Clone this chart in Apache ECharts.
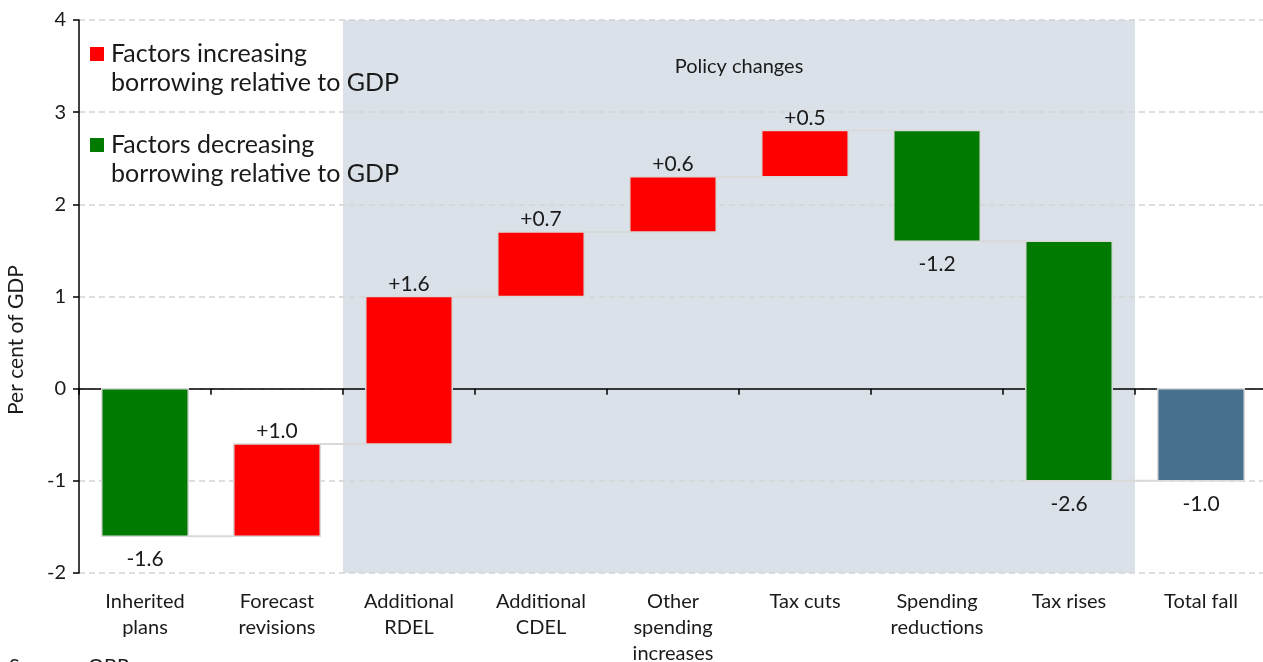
<!DOCTYPE html>
<html>
<head>
<meta charset="utf-8">
<script src="https://cdn.jsdelivr.net/npm/echarts@6/dist/echarts.min.js"></script>
<style>
  html, body { margin: 0; padding: 0; background: #fff; }
  #chart { width: 1263px; height: 662px; }
</style>
</head>
<body>
<div id="chart"></div>
<script>
// Contributions to the change in borrowing (per cent of GDP)
const categories = ['Inherited\nplans', 'Forecast\nrevisions', 'Additional\nRDEL', 'Additional\nCDEL',
  'Other\nspending\nincreases', 'Tax cuts', 'Spending\nreductions', 'Tax rises', 'Total fall'];
const changes = [-1.6, 1.0, 1.6, 0.7, 0.6, 0.5, -1.2, -2.6];
const totalFall = -1.0;
const valueLabels = ['-1.6', '+1.0', '+1.6', '+0.7', '+0.6', '+0.5', '-1.2', '-2.6', '-1.0'];
const yTicks = [-2, -1, 0, 1, 2, 3, 4];
// Policy-change block spans these category indices
const policyRange = [2, 7];

const FONT = 'Lato, "Noto Sans", sans-serif';
const RED = '#ff0000', GREEN = '#007a00', TOTAL = '#47708f';
const INK = '#1a1a1a';

// Build floating bars: [index, low, high, kind, end]
const bars = [];
let running = 0;
changes.forEach((c, i) => {
  const start = running;
  const end = Math.round((running + c) * 10) / 10;
  bars.push([i, Math.min(start, end), Math.max(start, end), c > 0 ? 1 : 0, end]);
  running = end;
});
bars.push([changes.length, Math.min(0, totalFall), Math.max(0, totalFall), 2, totalFall]);

const chart = echarts.init(document.getElementById('chart'));

chart.setOption({
  animation: false,
  textStyle: { fontFamily: FONT },
  grid: { left: 79, right: -4, top: 20, bottom: 89, outerBoundsMode: 'none', containLabel: false },
  xAxis: [
    {
      // zero line with category boundary ticks
      type: 'category', data: categories, position: 'top',
      axisLine: { onZero: true, lineStyle: { color: '#000', width: 1.5 } },
      axisTick: { show: true, inside: true, length: 6, lineStyle: { color: '#000', width: 1.5 } },
      axisLabel: { show: false }, splitLine: { show: false }
    },
    {
      // category labels along the bottom
      type: 'category', data: categories, position: 'bottom',
      axisLine: { show: false, onZero: false }, axisTick: { show: false },
      axisLabel: { show: true, interval: 0, margin: 16, color: INK, fontSize: 20,
        lineHeight: 26, fontFamily: FONT, align: 'center' },
      splitLine: { show: false }
    }
  ],
  yAxis: {
    type: 'value', min: yTicks[0], max: yTicks[yTicks.length - 1], interval: 1,
    axisLine: { show: true, lineStyle: { color: '#000', width: 1.5 } },
    axisTick: { show: true, length: 6, lineStyle: { color: '#000', width: 1.5 } },
    axisLabel: { color: INK, fontSize: 20, margin: 13, fontFamily: FONT },
    splitLine: { show: true, lineStyle: { color: '#d4d4d4', type: [6, 4], width: 1.5 } }
  },
  graphic: [
    { type: 'rect', shape: { x: 90, y: 47, width: 14, height: 14 }, style: { fill: RED } },
    { type: 'text', x: 111, y: 39, style: { text: 'Factors increasing\nborrowing relative to GDP',
      font: '25px ' + FONT, fill: INK, lineHeight: 29 } },
    { type: 'rect', shape: { x: 90, y: 138, width: 14, height: 14 }, style: { fill: GREEN } },
    { type: 'text', x: 111, y: 130, style: { text: 'Factors decreasing\nborrowing relative to GDP',
      font: '25px ' + FONT, fill: INK, lineHeight: 29 } },
    { type: 'text', x: 16, y: 340, rotation: Math.PI / 2, style: { text: 'Per cent of GDP',
      font: '21px ' + FONT, fill: INK, align: 'center', verticalAlign: 'middle' } },
    { type: 'text', x: 9, y: 657, style: { text: 'Source:', font: '20px ' + FONT, fill: INK } },
    { type: 'text', x: 88, y: 657, style: { text: 'OBR', font: '20px ' + FONT, fill: INK } }
  ],
  series: [
    {
      // shaded policy-change block
      type: 'custom', z: -1, silent: true,
      xAxisIndex: 0,
      data: [[policyRange[0], policyRange[1], yTicks[yTicks.length - 1], yTicks[0]]],
      encode: { x: [0, 1], y: [2, 3] },
      renderItem(params, api) {
        const a = api.coord([api.value(0), api.value(2)]);
        const b = api.coord([api.value(1), api.value(3)]);
        const band = api.size([1, 0])[0];
        const titleY = api.coord([api.value(0), 3.5])[1];
        return {
          type: 'group',
          children: [
            { type: 'rect', shape: { x: a[0] - band / 2, y: a[1], width: b[0] - a[0] + band, height: b[1] - a[1] },
              style: { fill: '#dae1e8' } },
            { type: 'text', x: (a[0] + b[0]) / 2, y: titleY, style: { text: 'Policy changes', font: '20px ' + FONT,
              fill: INK, align: 'center', verticalAlign: 'middle' } }
          ]
        };
      }
    },
    {
      // waterfall bars, connectors and value labels
      type: 'custom', z: 3, xAxisIndex: 0,
      data: bars,
      encode: { x: 0, y: [1, 2] },
      renderItem(params, api) {
        const i = api.value(0);
        const lo = api.value(1), hi = api.value(2), kind = api.value(3), end = api.value(4);
        const pHi = api.coord([i, hi]);
        const pLo = api.coord([i, lo]);
        const band = api.size([1, 0])[0];
        const w = band * 0.655;
        const fill = kind === 1 ? RED : kind === 0 ? GREEN : TOTAL;
        const children = [
          { type: 'rect', shape: { x: pHi[0] - w / 2, y: pHi[1], width: w, height: pLo[1] - pHi[1] },
            style: { fill, stroke: '#d9d9d9', lineWidth: 1.5 } }
        ];
        if (i < bars.length - 1) {
          const pe = api.coord([i, end]);
          children.push({ type: 'line', shape: { x1: pe[0] + w / 2, y1: pe[1], x2: pe[0] + band - w / 2, y2: pe[1] },
            style: { stroke: '#d9d9d9', lineWidth: 2 } });
        }
        const positive = kind === 1;
        children.push({
          type: 'text', x: pHi[0], y: positive ? pHi[1] - 2 : pLo[1] + 13,
          style: { text: valueLabels[params.dataIndex], font: '21px ' + FONT, fill: INK,
            align: 'center', verticalAlign: positive ? 'bottom' : 'top' }
        });
        return { type: 'group', children };
      }
    }
  ]
});
</script>
</body>
</html>
